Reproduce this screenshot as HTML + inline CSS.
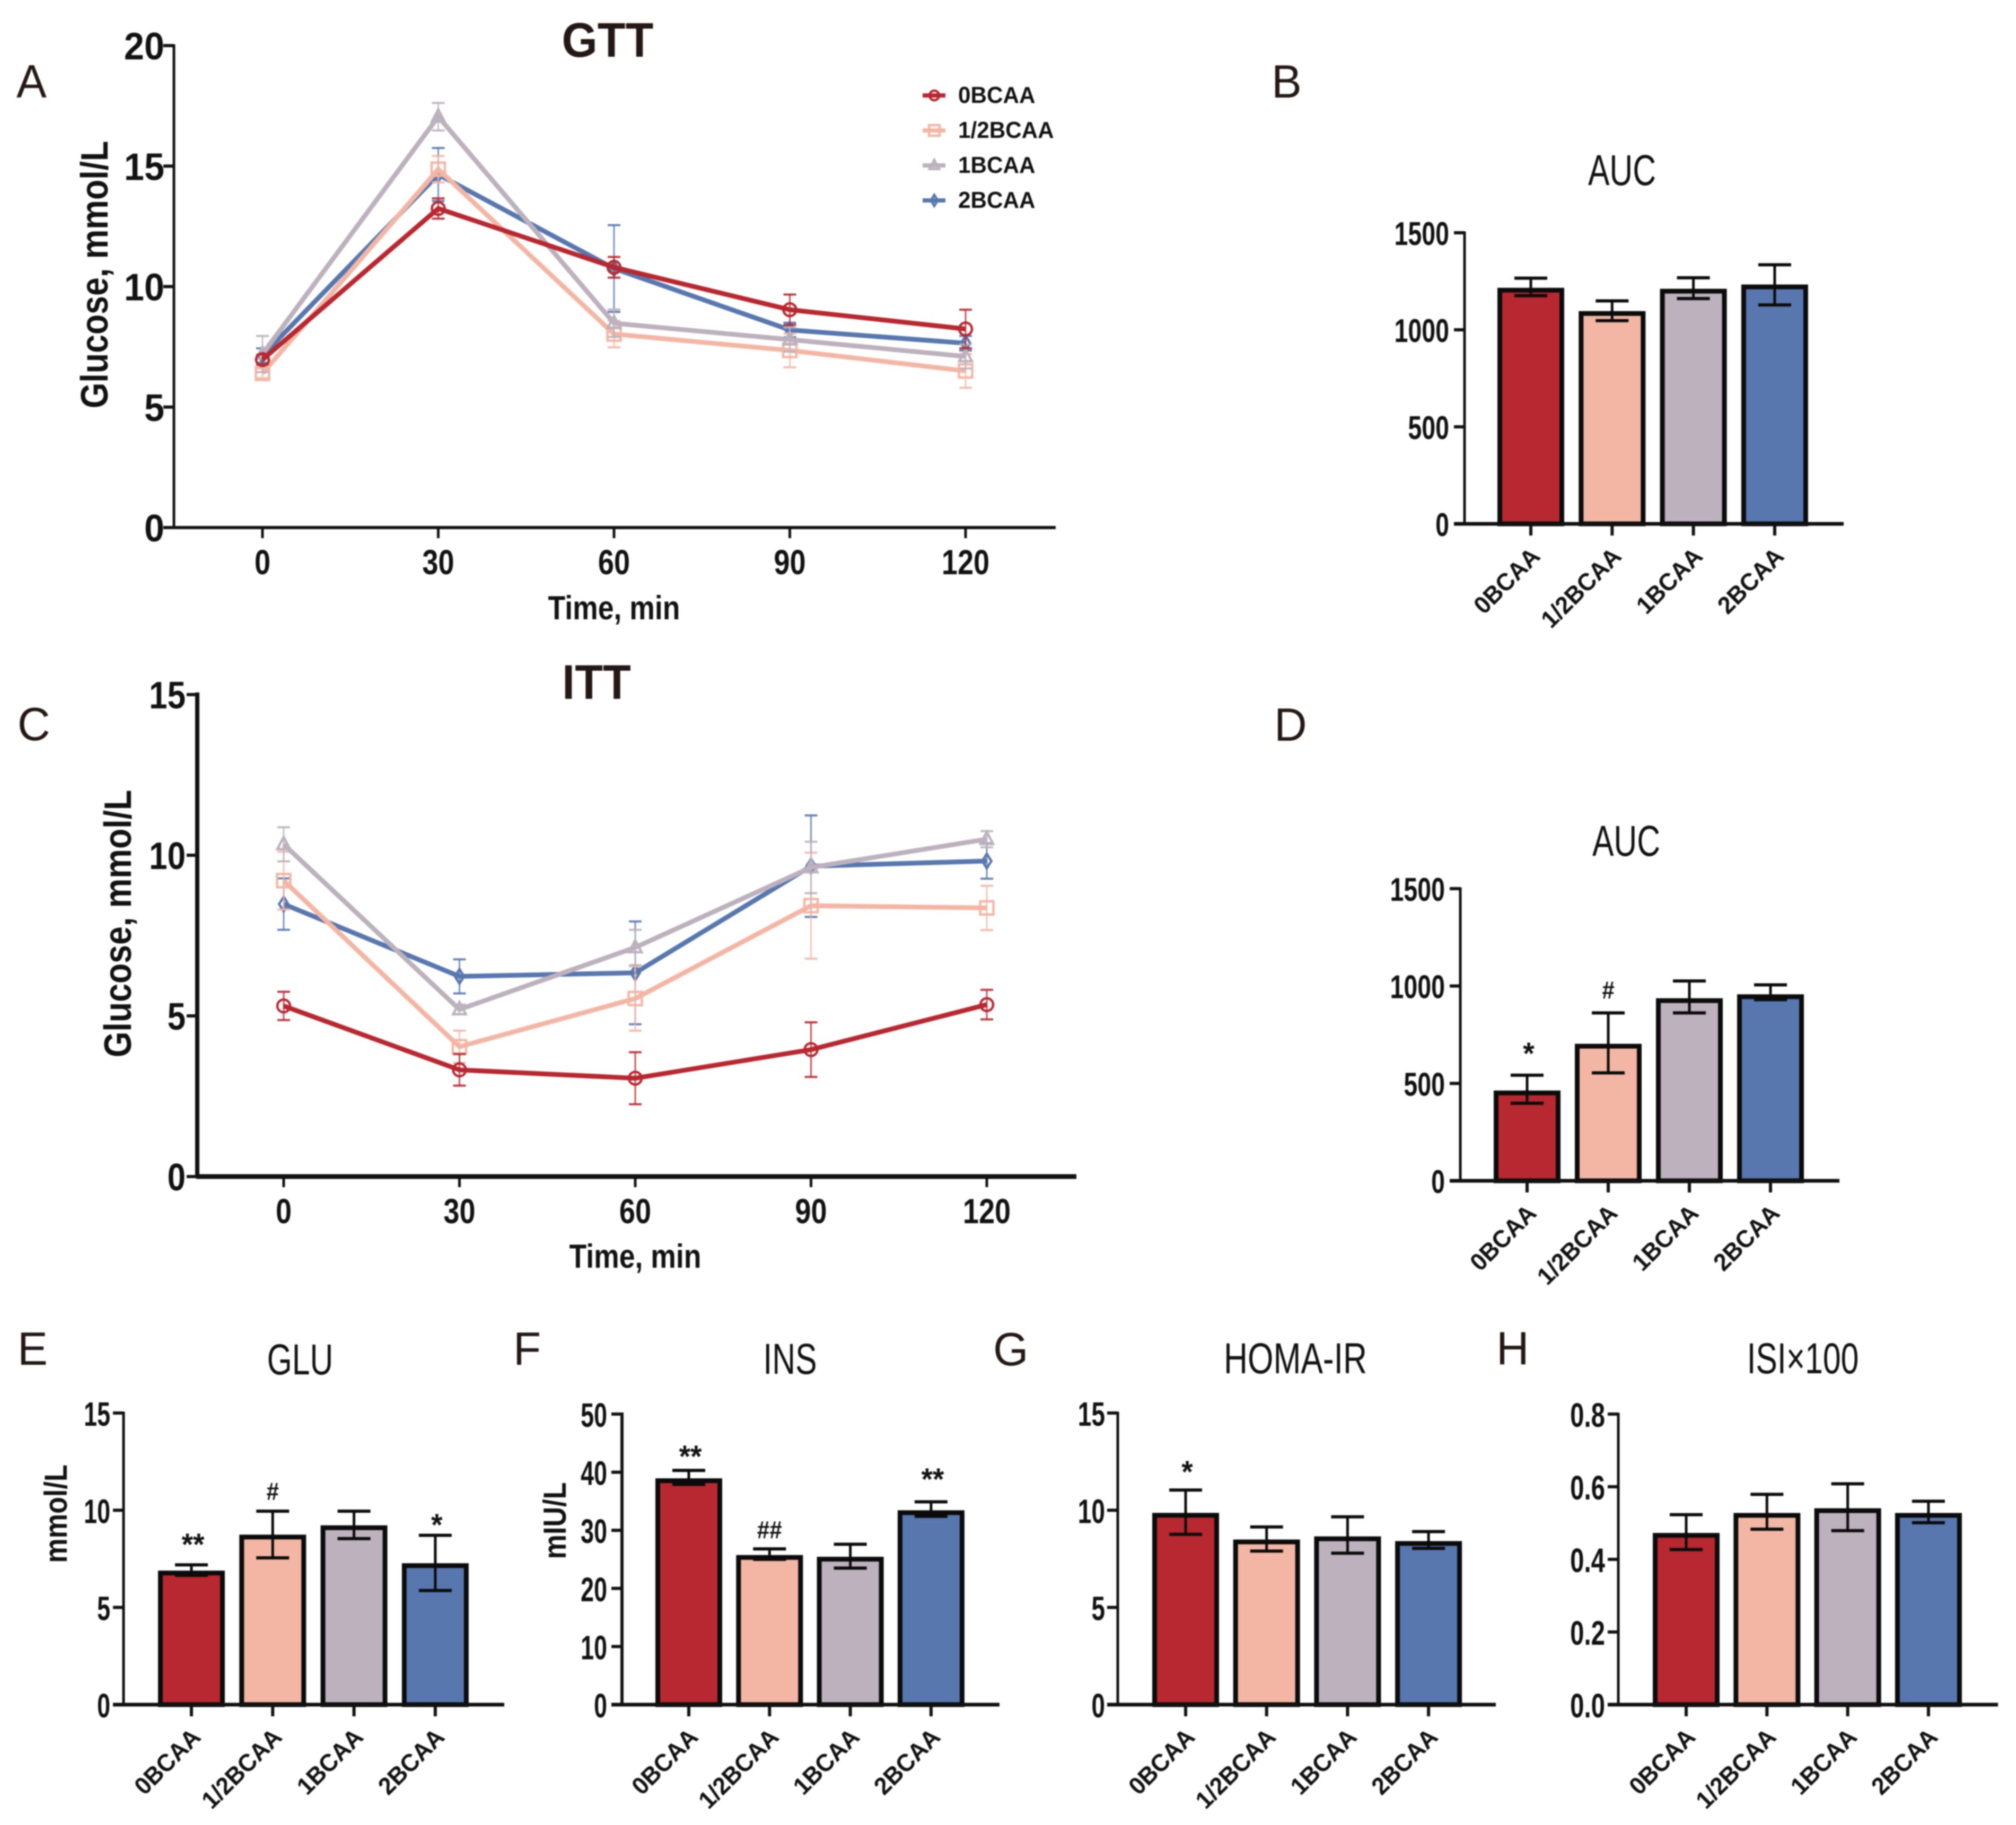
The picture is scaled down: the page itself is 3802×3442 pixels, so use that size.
<!DOCTYPE html>
<html lang="en">
<head>
<meta charset="utf-8">
<title>BCAA glucose and insulin panels</title>
<style>
html,body{margin:0;padding:0;background:#fff;width:3802px;height:3442px;overflow:hidden}
svg{display:block;font-family:"Liberation Sans",sans-serif;filter:blur(1.2px)}
</style>
</head>
<body>
<svg id="figure" xmlns="http://www.w3.org/2000/svg" width="3802" height="3442" viewBox="0 0 3802 3442"></svg>
<script>
const categories = ['0BCAA', '1/2BCAA', '1BCAA', '2BCAA'];
const timePoints = [0, 30, 60, 90, 120];
const timeTickLabels = ['0', '30', '60', '90', '120'];

const gttTicks = [0, 5, 10, 15, 20];
const gttMean0 = [6.97, 13.24, 10.8, 9.04, 8.24];
const gttErr0 = [0.2, 0.42, 0.43, 0.63, 0.8];
const gttMeanHalf = [6.4, 14.87, 8.03, 7.35, 6.5];
const gttErrHalf = [0.2, 0.55, 0.55, 0.7, 0.7];
const gttMean1 = [7.2, 17.05, 8.48, 7.8, 7.1];
const gttErr1 = [0.75, 0.57, 0.57, 0.5, 0.5];
const gttMean2 = [7.14, 14.65, 10.75, 8.2, 7.65];
const gttErr2 = [0.3, 1.1, 1.8, 0.3, 0.3];

const ittTicks = [0, 5, 10, 15];
const ittMean0 = [5.31, 3.32, 3.06, 3.95, 5.35];
const ittErr0 = [0.44, 0.49, 0.81, 0.85, 0.46];
const ittMeanHalf = [9.21, 4.04, 5.54, 8.43, 8.36];
const ittErrHalf = [0.9, 0.5, 1.0, 1.65, 0.69];
const ittMean1 = [10.34, 5.2, 7.13, 9.62, 10.5];
const ittErr1 = [0.53, 0.15, 0.55, 0.8, 0.25];
const ittMean2 = [8.48, 6.23, 6.34, 9.66, 9.82];
const ittErr2 = [0.8, 0.53, 1.6, 1.58, 0.55];

const aucTicks = [0, 500, 1000, 1500];
const aucGttValues = [1215, 1095, 1210, 1232];
const aucGttUpper = [1266, 1149, 1268, 1335];
const aucGttLower = [1176, 1047, 1161, 1128];

const aucIttValues = [462, 702, 936, 956];
const aucIttUpper = [542, 862, 1026, 1006];
const aucIttLower = [398, 554, 862, 930];
const aucIttMarks = ['*', '#', '', ''];
const aucIttMarkLevels = [683, 983, 0, 0];

const gluTicks = [0, 5, 10, 15];
const gluValues = [6.88, 8.73, 9.21, 7.26];
const gluUpper = [7.19, 9.95, 9.95, 8.71];
const gluLower = [6.65, 7.55, 8.54, 5.87];
const gluMarks = ['**', '#', '', '*'];
const gluMarkLevels = [8.54, 11.0, 0, 9.55];

const insTicks = [0, 10, 20, 30, 40, 50];
const insValues = [38.9, 25.7, 25.4, 33.4];
const insUpper = [40.3, 26.8, 27.6, 34.9];
const insLower = [37.9, 25.0, 23.5, 32.4];
const insMarks = ['**', '##', '', '**'];
const insMarkLevels = [43.7, 30.2, 0, 39.8];

const homaTicks = [0, 5, 10, 15];
const homaValues = [9.85, 8.48, 8.64, 8.4];
const homaUpper = [11.04, 9.14, 9.66, 8.9];
const homaLower = [8.76, 7.9, 7.79, 8.04];
const homaMarks = ['*', '', '', ''];
const homaMarkLevels = [12.27, 0, 0, 0];

const isiTicks = [0, 0.2, 0.4, 0.6, 0.8];
const isiTickLabels = ['0.0', '0.2', '0.4', '0.6', '0.8'];
const isiValues = [0.472, 0.527, 0.54, 0.527];
const isiUpper = [0.523, 0.579, 0.608, 0.56];
const isiLower = [0.427, 0.483, 0.479, 0.501];

const noMarks = ['', '', '', ''];
const noLevels = [0, 0, 0, 0];
const seriesColors = ['#B72830', '#F3B6A5', '#BCB1BD', '#5877AF'];
const TEXT_COLOR = '#111';
const figure = document.getElementById('figure');

function mk(tag, attrs, name, parent) {
  const el = document.createElementNS('http://www.w3.org/2000/svg', tag);
  for (const k in attrs) el.setAttribute(k, attrs[k]);
  
  
  (parent || figure).appendChild(el);
  return el;
}
function label(str, x, y, size, name, parent, opt) {
  const o = opt || {};
  const tf = 'translate(' + x + ' ' + y + ')' + (o.rot ? ' rotate(' + o.rot + ')' : '') + ' scale(' + (o.sx || 1) + ' 1)';
  const el = mk('text', {
    transform: tf,
    'font-size': size,
    'font-weight': o.weight || 'bold',
    'text-anchor': o.anchor || 'middle',
    fill: o.fill || TEXT_COLOR
  }, name, parent);
  el.textContent = str;
  return el;
}
function line(x1, y1, x2, y2, color, w, name, parent, opacity) {
  const attrs = { x1: x1, y1: y1, x2: x2, y2: y2, stroke: color, 'stroke-width': w };
  if (opacity) attrs['stroke-opacity'] = opacity;
  return mk('line', attrs, name, parent);
}
function marker(kind, x, y, s, color, w, name, parent) {
  const common = { fill: 'none', stroke: color, 'stroke-width': w };
  if (kind === 0) return mk('circle', Object.assign({ cx: x, cy: y, r: s }, common), name, parent);
  if (kind === 1) return mk('rect', Object.assign({ x: x - s, y: y - s, width: 2 * s, height: 2 * s }, common), name, parent);
  if (kind === 2) return mk('polygon', Object.assign({ points: [x, y - s * 1.15, x + s, y + s * 0.75, x - s, y + s * 0.75].join(' ') }, common), name, parent);
  return mk('polygon', Object.assign({ points: [x, y - s * 1.15, x + s * 0.72, y, x, y + s * 1.15, x - s * 0.72, y].join(' ') }, common), name, parent);
}
function panelLetter(ch, x, y) {
  label(ch, x, y, 88, 'panel-letter-' + ch.toLowerCase(), figure, { weight: 'normal', anchor: 'start', fill: '#231815', sx: 0.97 });
}
function yAxis(g, f, ticks, tickLabels, scaleY) {
  line(f.axisX, f.yTop - f.axisW / 2, f.axisX, f.y0, '#111', f.axisW, 'y-axis-line', g);
  ticks.forEach(function (t, i) {
    const y = scaleY(t);
    line(f.axisX - 20, y, f.axisX, y, '#111', 6, 'y-tick', g);
    label(tickLabels[i], f.axisX - f.labelGap, y + f.labelDy, f.tickSize, 'y-tick-label', g, { anchor: 'end', sx: f.tickSx });
  });
}

function lineChart(name, f, ticks, series, title) {
  const g = mk('g', {}, name + '-chart');
  const scaleY = function (v) { return f.y0 - (v - ticks[0]) / (ticks[ticks.length - 1] - ticks[0]) * (f.y0 - f.yTop); };
  const scaleX = function (t) { return f.x0 + (t - timePoints[0]) / (timePoints[timePoints.length - 1] - timePoints[0]) * (f.x120 - f.x0); };
  series.forEach(function (s) {
    const sg = mk('g', {}, s.name + '-series', g);
    s.mean.forEach(function (m, i) {
      const x = scaleX(timePoints[i]);
      const hi = scaleY(m + s.err[i]);
      const lo = scaleY(m - s.err[i]);
      line(x, hi, x, lo, s.color, 3, 'error-bar', sg, 0.8);
      line(x - 12, hi, x + 12, hi, s.color, 4, 'error-cap-upper', sg, 0.9);
      line(x - 12, lo, x + 12, lo, s.color, 4, 'error-cap-lower', sg, 0.9);
    });
    const pts = s.mean.map(function (m, i) { return scaleX(timePoints[i]) + ',' + scaleY(m); }).join(' ');
    mk('polyline', { points: pts, fill: 'none', stroke: s.color, 'stroke-width': 9, 'stroke-linejoin': 'miter' }, 'series-line', sg);
    s.mean.forEach(function (m, i) {
      marker(s.kind, scaleX(timePoints[i]), scaleY(m), s.kind === 1 ? 12.5 : 12, s.color, 4.5, 'data-point', sg);
    });
  });
  yAxis(g, f, ticks, ticks.map(String), scaleY);
  line(f.axisX - 2, f.y0, f.xEnd, f.y0, '#111', f.baseW, 'x-axis-line', g);
  timePoints.forEach(function (t, i) {
    const x = scaleX(t);
    line(x, f.y0, x, f.y0 + 20, '#111', 5, 'x-tick', g);
    label(timeTickLabels[i], x, f.y0 + 88, 66, 'x-tick-label', g, { sx: 0.82 });
  });
  label('Time, min', f.xTitleX, f.xTitleY, 63, 'x-axis-title', g, { sx: 0.85 });
  label('Glucose, mmol/L', f.yTitleX, f.yTitleY, 72, 'y-axis-title', g, { rot: -90, sx: 0.87 });
  label(title, f.titleX, f.titleY, 92, 'chart-title', g, { fill: '#231815', sx: 0.94 });
}

function barChart(name, f, ticks, tickLabels, values, upper, lower, marks, levels, title) {
  const g = mk('g', {}, name + '-chart');
  const scaleY = function (v) { return f.y0 - (v - ticks[0]) / (ticks[ticks.length - 1] - ticks[0]) * (f.y0 - f.yTop); };
  const scaleX = function (i) { return f.c0 + i * f.step; };
  values.forEach(function (v, i) {
    const cx = scaleX(i);
    const top = scaleY(v) + 4;
    mk('rect', { x: cx - 58.5, y: top, width: 117, height: f.y0 - top, fill: seriesColors[i], stroke: '#0b0b0b', 'stroke-width': 9 }, 'bar-' + categories[i].replace('/', '-').toLowerCase(), g);
  });
  values.forEach(function (v, i) {
    const cx = scaleX(i);
    const hi = scaleY(upper[i]);
    const lo = scaleY(lower[i]);
    line(cx, hi, cx, lo, '#0b0b0b', 5, 'error-bar', g);
    line(cx - 31, hi, cx + 31, hi, '#0b0b0b', 6, 'error-cap-upper', g);
    line(cx - 31, lo, cx + 31, lo, '#0b0b0b', 6, 'error-cap-lower', g);
    if (marks[i]) {
      const isStar = marks[i].charAt(0) === '*';
      const size = isStar ? 58 : 46;
      label(marks[i], cx + (isStar ? 3 : 0), scaleY(levels[i]) + (isStar ? 31 : 17), size, 'significance-mark', g, { sx: isStar ? 0.95 : 0.92 });
    }
  });
  yAxis(g, f, ticks, tickLabels, scaleY);
  line(f.axisX - 20, f.y0, f.xEnd, f.y0, '#111', 7, 'x-axis-line', g);
  categories.forEach(function (c, i) {
    const x = scaleX(i);
    line(x, f.y0, x, f.y0 + 22, '#111', 6, 'x-tick', g);
    label(c, x + 20, f.y0 + 64, 46, 'x-tick-label', g, { anchor: 'end', rot: -45, sx: 0.97 });
  });
  label(title, f.titleX, f.titleY + 2, f.titleSize || 82, 'chart-title', g, { weight: 'normal', sx: f.titleSx });
  if (f.yTitle) label(f.yTitle, f.yTitleX, f.yTitleY, 60, 'y-axis-title', g, { rot: -90, sx: 0.87 });
}

panelLetter('A', 31, 184);
panelLetter('B', 2398, 184);
panelLetter('C', 33, 1396);
panelLetter('D', 2403, 1397);
panelLetter('E', 33, 2574);
panelLetter('F', 968, 2574);
panelLetter('G', 1873, 2575);
panelLetter('H', 2822, 2573);

lineChart('gtt', { axisX: 328, axisW: 5, baseW: 6, yTop: 86, y0: 995, x0: 495, x120: 1821, xEnd: 1991, labelGap: 18, labelDy: 26, tickSize: 72, tickSx: 0.95,
  xTitleX: 1158, xTitleY: 1168, yTitleX: 203, yTitleY: 518, titleX: 1146, titleY: 107 }, gttTicks, [
  { name: '2bcaa', mean: gttMean2, err: gttErr2, color: seriesColors[3], kind: 3 },
  { name: '1-2bcaa', mean: gttMeanHalf, err: gttErrHalf, color: seriesColors[1], kind: 1 },
  { name: '1bcaa', mean: gttMean1, err: gttErr1, color: seriesColors[2], kind: 2 },
  { name: '0bcaa', mean: gttMean0, err: gttErr0, color: seriesColors[0], kind: 0 }
], 'GTT');

lineChart('itt', { axisX: 372, axisW: 8, baseW: 9, yTop: 1310, y0: 2219, x0: 535, x120: 1861, xEnd: 2030, labelGap: 22, labelDy: 26, tickSize: 72, tickSx: 0.86,
  xTitleX: 1198, xTitleY: 2391, yTitleX: 247, yTitleY: 1742, titleX: 1125, titleY: 1318 }, ittTicks, [
  { name: '2bcaa', mean: ittMean2, err: ittErr2, color: seriesColors[3], kind: 3 },
  { name: '1-2bcaa', mean: ittMeanHalf, err: ittErrHalf, color: seriesColors[1], kind: 1 },
  { name: '1bcaa', mean: ittMean1, err: ittErr1, color: seriesColors[2], kind: 2 },
  { name: '0bcaa', mean: ittMean0, err: ittErr0, color: seriesColors[0], kind: 0 }
], 'ITT');

const legend = mk('g', {}, 'legend');
categories.forEach(function (c, i) {
  const item = mk('g', {}, 'legend-entry', legend);
  const y = 180 + i * 66;
  line(1740, y, 1783, y, seriesColors[i], 8, 'legend-line', item);
  marker(i, 1762, y, i === 1 ? 10 : 9, seriesColors[i], 4.5, 'legend-marker', item);
  label(c, 1807, y + 14, 44, 'legend-label', item, { anchor: 'start', sx: 0.96 });
});

barChart('auc-gtt', { axisX: 2762, axisW: 5, yTop: 439, y0: 988, xEnd: 3477, c0: 2887, step: 153.3, labelGap: 29, labelDy: 23, tickSize: 62, tickSx: 0.75,
  titleX: 3059, titleY: 347, titleSx: 0.74 }, aucTicks, aucTicks.map(String), aucGttValues, aucGttUpper, aucGttLower, noMarks, noLevels, 'AUC');

barChart('auc-itt', { axisX: 2754, axisW: 5, yTop: 1676, y0: 2227, xEnd: 3469, c0: 2880, step: 153, labelGap: 29, labelDy: 23, tickSize: 62, tickSx: 0.75,
  titleX: 3067, titleY: 1612, titleSx: 0.74 }, aucTicks, aucTicks.map(String), aucIttValues, aucIttUpper, aucIttLower, aucIttMarks, aucIttMarkLevels, 'AUC');

barChart('glu', { axisX: 233, axisW: 5, yTop: 2665, y0: 3215, xEnd: 951, c0: 361, step: 153.3, labelGap: 25, labelDy: 24, tickSize: 64, tickSx: 0.7,
  titleX: 566, titleY: 2590, titleSx: 0.74, yTitle: 'mmol/L', yTitleX: 126, yTitleY: 2855 }, gluTicks, gluTicks.map(String), gluValues, gluUpper, gluLower, gluMarks, gluMarkLevels, 'GLU');

barChart('ins', { axisX: 1173, axisW: 6, yTop: 2667, y0: 3215, xEnd: 1885, c0: 1299, step: 152.3, labelGap: 28, labelDy: 24, tickSize: 64, tickSx: 0.7,
  titleX: 1490, titleY: 2589, titleSx: 0.74, yTitle: 'mIU/L', yTitleX: 1067, yTitleY: 2868 }, insTicks, insTicks.map(String), insValues, insUpper, insLower, insMarks, insMarkLevels, 'INS');

barChart('homa', { axisX: 2108, axisW: 5, yTop: 2665, y0: 3215, xEnd: 2821, c0: 2236, step: 152.7, labelGap: 24, labelDy: 24, tickSize: 64, tickSx: 0.72,
  titleX: 2443, titleY: 2588, titleSx: 0.76 }, homaTicks, homaTicks.map(String), homaValues, homaUpper, homaLower, homaMarks, homaMarkLevels, 'HOMA-IR');

barChart('isi', { axisX: 3052, axisW: 5, yTop: 2667, y0: 3215, xEnd: 3768, c0: 3180, step: 152.3, labelGap: 25, labelDy: 24, tickSize: 64, tickSx: 0.74,
  titleX: 3400, titleY: 2588, titleSx: 0.74 }, isiTicks, isiTickLabels, isiValues, isiUpper, isiLower, noMarks, noLevels, 'ISI×100');
</script>
</body>
</html>
